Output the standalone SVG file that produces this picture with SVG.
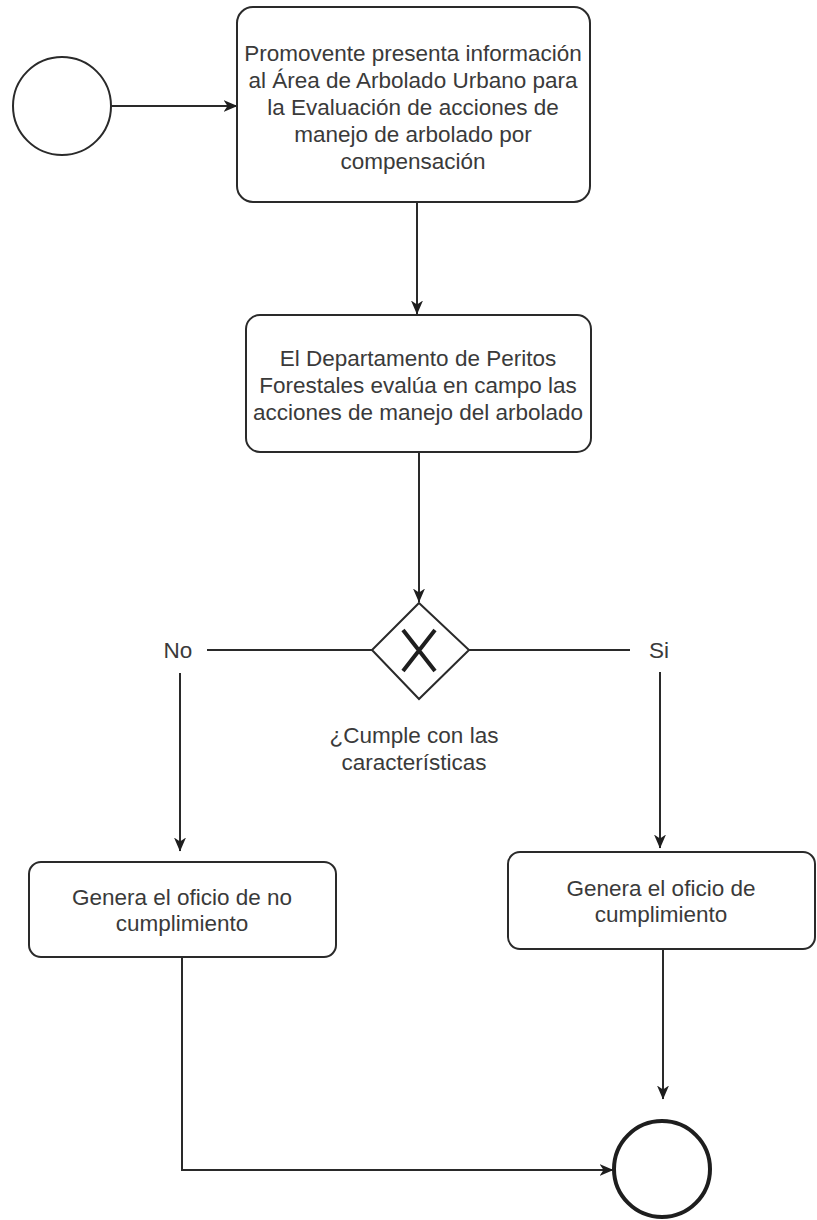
<svg xmlns="http://www.w3.org/2000/svg" width="817" height="1220" viewBox="0 0 817 1220">
<style>
.box{fill:#fff;stroke:#2a2a2a;stroke-width:2}
.ev{fill:#fff;stroke:#2a2a2a;stroke-width:2}
.end{fill:#fff;stroke:#1e1e1e;stroke-width:4}
.t{font-family:"Liberation Sans",Arial,sans-serif;font-size:22.5px;fill:#3a3a3a;text-anchor:middle}
.c{fill:none;stroke:#2a2a2a;stroke-width:2}
</style>
<defs>
<marker id="ah" markerWidth="14" markerHeight="12" refX="13.5" refY="6" orient="auto" markerUnits="userSpaceOnUse">
<path d="M0,0 L14,6 L0,12 L4,6 Z" fill="#1e1e1e"/>
</marker>
</defs>
<rect width="817" height="1220" fill="#fff"/>
<g id="connectors">
<line class="c" x1="111" y1="106" x2="237" y2="106" marker-end="url(#ah)"/>
<line class="c" x1="417" y1="202" x2="417" y2="314" marker-end="url(#ah)"/>
<line class="c" x1="419" y1="452" x2="419" y2="602" marker-end="url(#ah)"/>
<line class="c" x1="207" y1="650" x2="372" y2="650"/>
<line class="c" x1="469" y1="650" x2="630" y2="650"/>
<line class="c" x1="180" y1="673" x2="180" y2="851" marker-end="url(#ah)"/>
<line class="c" x1="660" y1="672" x2="660" y2="848" marker-end="url(#ah)"/>
<line class="c" x1="663" y1="949" x2="663" y2="1099" marker-end="url(#ah)"/>
<polyline class="c" points="182,957 182,1170 613,1170" marker-end="url(#ah)"/>
</g>
<g id="start"><circle class="ev" cx="62" cy="106" r="49"/></g>
<g id="n1">
<rect class="box" x="237" y="7" width="353" height="195" rx="16"/>
<text class="t"><tspan x="413" y="61">Promovente presenta información</tspan><tspan x="413" y="88">al Área de Arbolado Urbano para</tspan><tspan x="413" y="115">la Evaluación de acciones de</tspan><tspan x="413" y="142">manejo de arbolado por</tspan><tspan x="413" y="169">compensación</tspan></text>
</g>
<g id="n2">
<rect class="box" x="246" y="315" width="345" height="137" rx="14"/>
<text class="t"><tspan x="418" y="366">El Departamento de Peritos</tspan><tspan x="418" y="393">Forestales evalúa en campo las</tspan><tspan x="418" y="420">acciones de manejo del arbolado</tspan></text>
</g>
<g id="gateway">
<polygon points="419,603 469,650 419,699 372,650" fill="#fff" stroke="#2a2a2a" stroke-width="2"/>
<path d="M403,630 L435,671 M435,630 L403,671" stroke="#1e1e1e" stroke-width="4" fill="none"/>
<text class="t"><tspan x="414" y="743">¿Cumple con las</tspan><tspan x="414" y="770">características</tspan></text>
</g>
<g id="lbl-no"><text class="t" x="178" y="658">No</text></g>
<g id="lbl-si"><text class="t" x="659" y="658">Si</text></g>
<g id="n3">
<rect class="box" x="29" y="862" width="307" height="95" rx="12"/>
<text class="t"><tspan x="182" y="905">Genera el oficio de no</tspan><tspan x="182" y="931">cumplimiento</tspan></text>
</g>
<g id="n4">
<rect class="box" x="508" y="852" width="307" height="97" rx="12"/>
<text class="t"><tspan x="661" y="896">Genera el oficio de</tspan><tspan x="661" y="922">cumplimiento</tspan></text>
</g>
<g id="endev"><circle class="end" cx="662" cy="1169" r="48"/></g>
</svg>
